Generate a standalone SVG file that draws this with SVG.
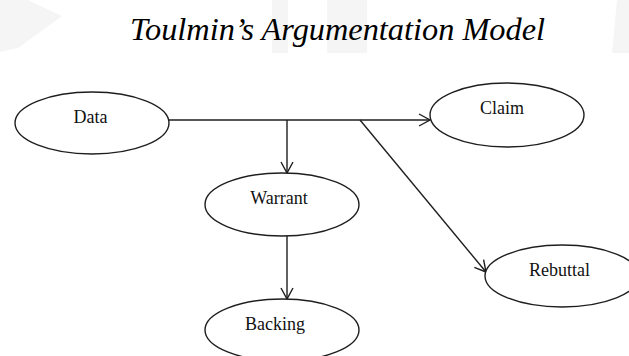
<svg xmlns="http://www.w3.org/2000/svg" width="629" height="356" viewBox="0 0 629 356">
<style>
.wm{fill:#f5f5f5}
.node ellipse{fill:#fff;stroke:#1e1e1e;stroke-width:1.4}
.node text{font-family:"Liberation Serif","Times New Roman",serif;font-size:18px;fill:#111;text-anchor:middle}
.title{font-family:"Liberation Serif","Times New Roman",serif;font-style:italic;font-size:32px;fill:#000}
#connectors line{stroke:#1e1e1e;stroke-width:1.4;fill:none}
</style>
<defs>
<marker id="arr" markerUnits="userSpaceOnUse" markerWidth="16" markerHeight="16" viewBox="-13 -8 14 16" refX="0" refY="0" orient="auto">
<path d="M-11,-6 L0,0 L-11,6" fill="none" stroke="#1e1e1e" stroke-width="1.4"/>
</marker>
</defs>
<rect width="629" height="356" fill="#fff"/>
<g id="watermark">
<path class="wm" d="M0,0 L28,0 L62,16 L18,48 L0,52 Z"/>
<rect class="wm" x="272" y="0" width="16" height="53"/>
<rect class="wm" x="327" y="0" width="40" height="53"/>
<path class="wm" d="M617,0 L629,0 L629,53 L612,53 Z"/>
</g>
<text class="title" x="130" y="40" textLength="415" lengthAdjust="spacingAndGlyphs">Toulmin’s Argumentation Model</text>
<g id="connectors">
<line x1="169" y1="120" x2="430" y2="120" marker-end="url(#arr)"/>
<line x1="287" y1="120" x2="287" y2="173" marker-end="url(#arr)"/>
<line x1="360" y1="120" x2="486" y2="272" marker-end="url(#arr)"/>
<line x1="287" y1="236" x2="287" y2="299" marker-end="url(#arr)"/>
</g>
<g id="node-data" class="node">
<ellipse cx="92" cy="123" rx="77" ry="31"/>
<text x="90.5" y="123">Data</text>
</g>
<g id="node-claim" class="node">
<ellipse cx="507" cy="115" rx="77" ry="32"/>
<text x="502" y="114">Claim</text>
</g>
<g id="node-warrant" class="node">
<ellipse cx="282" cy="204.5" rx="77" ry="31.5"/>
<text x="279" y="204">Warrant</text>
</g>
<g id="node-backing" class="node">
<ellipse cx="282" cy="330" rx="77" ry="31"/>
<text x="275" y="330">Backing</text>
</g>
<g id="node-rebuttal" class="node">
<ellipse cx="562" cy="276" rx="77" ry="31"/>
<text x="559.5" y="276">Rebuttal</text>
</g>
</svg>
